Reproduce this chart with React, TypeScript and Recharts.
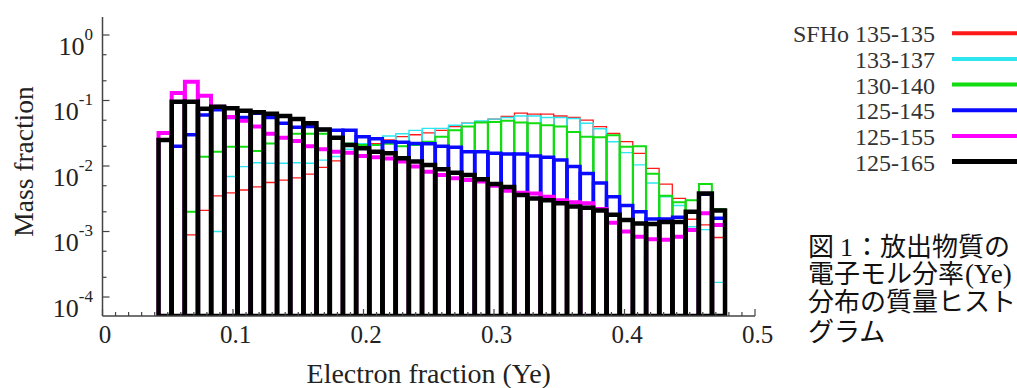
import React from "react";
import { ComposedChart, Bar, XAxis, YAxis, Label } from "recharts";

// Ye histogram bin centres
const yeBins = [
  0.048, 0.0581, 0.0682, 0.0783, 0.0884, 0.0985, 0.1086, 0.1187, 0.1288, 0.1389,
  0.149, 0.1591, 0.1692, 0.1793, 0.1894, 0.1995, 0.2096, 0.2197, 0.2298, 0.2399,
  0.25, 0.2601, 0.2702, 0.2803, 0.2904, 0.3005, 0.3106, 0.3207, 0.3308, 0.3409,
  0.351, 0.3611, 0.3712, 0.3813, 0.3914, 0.4015, 0.4116, 0.4217, 0.4318, 0.4419,
  0.452, 0.4621, 0.4722,
];

// mass fraction per bin, one list per binary model (null = empty bin)
const sfho135_135 = [
  null, null, 0.00089, 0.0021, 0.0035, 0.0039, 0.0043, 0.0048, 0.0056, 0.0061,
  0.0066, 0.0075, 0.0095, 0.012, 0.016, 0.019, 0.022, 0.025, 0.028, 0.03,
  0.032, 0.035, 0.04, 0.045, 0.047, 0.052, 0.057, 0.064, 0.062, 0.062,
  0.058, 0.055, 0.05, 0.04, 0.0316, 0.0235, 0.0156, 0.0092, 0.0053, 0.0032,
  0.00154, 0.00126, 0.00081,
];
const sfho133_137 = [
  null, null, null, null, 0.001, 0.0069, 0.0098, 0.0112, 0.011, 0.011,
  0.0112, 0.011, 0.0123, 0.014, 0.018, 0.022, 0.0256, 0.0287, 0.031, 0.035,
  0.0376, 0.0376, 0.042, 0.045, 0.0486, 0.052, 0.055, 0.058, 0.058, 0.055,
  0.055, 0.053, 0.045, 0.037, 0.0235, 0.016, 0.0104, 0.0055, 0.0034, 0.0025,
  0.00118, 0.00107, 0.000167,
];
const sfho130_140 = [
  null, null, 0.002, 0.0139, 0.0165, 0.0197, 0.0197, 0.017, 0.022, 0.0275,
  0.031, 0.031, 0.031, 0.026, 0.022, 0.021, 0.021, 0.0218, 0.02, 0.021,
  0.0235, 0.028, 0.035, 0.04, 0.046, 0.047, 0.049, 0.046, 0.045, 0.042,
  0.04, 0.033, 0.028, 0.0275, 0.0296, 0.0197, 0.02, 0.0076, 0.0035, 0.0028,
  0.003, 0.0053, 0.0022,
];
const sfho125_145 = [
  null, 0.02, 0.03, 0.06, 0.072, 0.055, 0.055, 0.064, 0.055, 0.045,
  0.039, 0.04, 0.036, 0.035, 0.035, 0.028, 0.026, 0.0235, 0.023, 0.022,
  0.0218, 0.02, 0.0194, 0.0165, 0.0165, 0.0156, 0.0152, 0.0152, 0.0142, 0.0136,
  0.0123, 0.0098, 0.0077, 0.0055, 0.0034, 0.0025, 0.002, 0.00155, 0.00155, 0.00165,
  0.002, 0.0037, 0.0016,
];
const sfho125_155 = [
  0.032, 0.13, 0.194, 0.118, 0.08, 0.056, 0.049, 0.04, 0.031, 0.027,
  0.024, 0.02, 0.018, 0.0165, 0.016, 0.0142, 0.0136, 0.013, 0.0117, 0.0098,
  0.0082, 0.0073, 0.0065, 0.0061, 0.0058, 0.005, 0.0042, 0.0039, 0.0038, 0.0034,
  0.003, 0.0028, 0.0027, 0.0022, 0.00136, 0.001, 0.00083, 0.00076, 0.00075, 0.00083,
  0.00105, 0.0019, 0.00126,
];
const sfho125_165 = [
  0.025, 0.096, 0.096, 0.075, 0.08, 0.076, 0.07, 0.066, 0.063, 0.058,
  0.052, 0.045, 0.036, 0.027, 0.021, 0.0186, 0.0165, 0.0156, 0.0131, 0.0117,
  0.0104, 0.0089, 0.0079, 0.0073, 0.0063, 0.0053, 0.0048, 0.0036, 0.0032, 0.003,
  0.0027, 0.0024, 0.0023, 0.0021, 0.0018, 0.0015, 0.00133, 0.0013, 0.0014, 0.0014,
  0.002, 0.0038, 0.0021,
];

const xMajorTicks = [0, 0.1, 0.2, 0.3, 0.4, 0.5];
const xMinorTicks = [
  0.01, 0.02, 0.03, 0.04, 0.05, 0.06, 0.07, 0.08, 0.09,
  0.11, 0.12, 0.13, 0.14, 0.15, 0.16, 0.17, 0.18, 0.19,
  0.21, 0.22, 0.23, 0.24, 0.25, 0.26, 0.27, 0.28, 0.29,
  0.31, 0.32, 0.33, 0.34, 0.35, 0.36, 0.37, 0.38, 0.39,
  0.41, 0.42, 0.43, 0.44, 0.45, 0.46, 0.47, 0.48, 0.49,
];
const yMajorTicks = [1e-4, 1e-3, 1e-2, 1e-1, 1];
const yMinorTicks = [2e-4, 5e-4, 2e-3, 5e-3, 2e-2, 5e-2, 0.2, 0.5];

const SERIES = [
  { key: "m135_135", name: "SFHo 135-135", color: "#ff1a1a", width: 1.3, values: sfho135_135 },
  { key: "m133_137", name: "133-137", color: "#2ee6f0", width: 1.4, values: sfho133_137 },
  { key: "m130_140", name: "130-140", color: "#11dd11", width: 2, values: sfho130_140 },
  { key: "m125_145", name: "125-145", color: "#0a0aff", width: 3.5, values: sfho125_145 },
  { key: "m125_155", name: "125-155", color: "#ff00ff", width: 4, values: sfho125_155 },
  { key: "m125_165", name: "125-165", color: "#000000", width: 4.5, values: sfho125_165 },
];

const chartData = yeBins.map((ye, i) => {
  const row: { [k: string]: number | null } = { ye };
  SERIES.forEach((s) => {
    row[s.key] = s.values[i];
  });
  return row;
});

const SERIF = '"Liberation Serif", "Times New Roman", serif';
const CJK = '"Noto Sans CJK JP", "Noto Sans CJK SC", sans-serif';
const AXIS = "#444";
const INK = "#222";
const BOX = 12.9;

const allXTicks = [...xMajorTicks, ...xMinorTicks].sort((a, b) => a - b);
const allYTicks = [...yMajorTicks, ...yMinorTicks].sort((a, b) => a - b);

const BottomTick = (props: any) => {
  const { x, y, payload } = props;
  const major = xMajorTicks.includes(payload.value);
  return (
    <g>
      <line x1={x} x2={x} y1={y} y2={y - (major ? 7 : 4)} stroke={AXIS} strokeWidth={1.2} />
      {major && (
        <text x={x + 2.5} y={y + 27} textAnchor="middle" fontSize={25} fill={INK} fontFamily={SERIF}>
          {String(payload.value)}
        </text>
      )}
    </g>
  );
};

const TopTick = (props: any) => {
  const { x, y, payload } = props;
  const major = xMajorTicks.includes(payload.value);
  return <line x1={x} x2={x} y1={y} y2={y + (major ? 7 : 4)} stroke={AXIS} strokeWidth={1.2} />;
};

const LeftTick = (props: any) => {
  const { x, y, payload } = props;
  const major = yMajorTicks.includes(payload.value);
  const exp = Math.round(Math.log10(payload.value));
  return (
    <g>
      <line x1={x} x2={x + (major ? 7 : 4)} y1={y} y2={y} stroke={AXIS} strokeWidth={1.2} />
      {major && (
        <text x={x - 9.5} y={y + 19.5} textAnchor="end" fontSize={26} fill={INK} fontFamily={SERIF}>
          10
          <tspan dy={-15} fontSize={17}>
            {String(exp)}
          </tspan>
        </text>
      )}
    </g>
  );
};

const RightTick = (props: any) => {
  const { x, y, payload } = props;
  const major = yMajorTicks.includes(payload.value);
  return <line x1={x} x2={x - (major ? 7 : 4)} y1={y} y2={y} stroke={AXIS} strokeWidth={1.2} />;
};

export default function App() {
  return (
    <div
      style={{
        position: "absolute",
        left: 0,
        top: 0,
        width: 1017,
        height: 388,
        overflow: "hidden",
        background: "#fff",
      }}
    >
      <ComposedChart
        width={1017}
        height={388}
        data={chartData}
        margin={{ top: 17, right: 262, bottom: 0, left: 42.5 }}
        barGap={-BOX}
      >
        <XAxis
          dataKey="ye"
          type="number"
          domain={[0, 0.5]}
          ticks={allXTicks}
          interval={0}
          height={72}
          tickSize={0}
          tickMargin={0}
          tickLine={false}
          tick={BottomTick}
          axisLine={{ stroke: AXIS, strokeWidth: 1.5 }}
          allowDataOverflow
        >
          <Label
            content={(p: any) => (
              <text
                x={p.viewBox.x + p.viewBox.width / 2}
                y={p.viewBox.y + 67}
                textAnchor="middle"
                fontSize={28}
                fill={INK}
                fontFamily={SERIF}
              >
                Electron fraction (Ye)
              </text>
            )}
          />
        </XAxis>
        <XAxis
          xAxisId="top"
          orientation="top"
          dataKey="ye"
          type="number"
          domain={[0, 0.5]}
          ticks={allXTicks}
          interval={0}
          height={0}
          tickSize={0}
          tickMargin={0}
          tickLine={false}
          tick={TopTick}
          axisLine={{ stroke: AXIS, strokeWidth: 1.5 }}
          allowDataOverflow
        />
        <YAxis
          type="number"
          scale="log"
          domain={[5.13e-5, 1.883]}
          ticks={allYTicks}
          interval={0}
          width={60}
          tickSize={0}
          tickMargin={0}
          tickLine={false}
          tick={LeftTick}
          axisLine={{ stroke: AXIS, strokeWidth: 1.5 }}
          allowDataOverflow
        >
          <Label
            content={(p: any) => (
              <text
                x={23}
                y={p.viewBox.y + p.viewBox.height / 2 - 5}
                transform={`rotate(-90, 23, ${p.viewBox.y + p.viewBox.height / 2 - 5})`}
                textAnchor="middle"
                dominantBaseline="central"
                fontSize={27.5}
                fill={INK}
                fontFamily={SERIF}
              >
                Mass fraction
              </text>
            )}
          />
        </YAxis>
        <YAxis
          yAxisId="right"
          orientation="right"
          type="number"
          scale="log"
          domain={[5.13e-5, 1.883]}
          ticks={allYTicks}
          interval={0}
          width={0}
          tickSize={0}
          tickMargin={0}
          tickLine={false}
          tick={RightTick}
          axisLine={{ stroke: AXIS, strokeWidth: 1.5 }}
          allowDataOverflow
        />
        {SERIES.map((s) => (
          <Bar
            key={s.key}
            dataKey={s.key}
            name={s.name}
            barSize={BOX}
            fill="none"
            stroke={s.color}
            strokeWidth={s.width}
            isAnimationActive={false}
          />
        ))}
      </ComposedChart>

      <svg width={1017} height={388} style={{ position: "absolute", left: 0, top: 0, pointerEvents: "none" }}>
        {SERIES.map((s, i) => {
          const cy = 33.3 + 25.65 * i;
          return (
            <g key={s.key}>
              <text x={935} y={cy + 9} textAnchor="end" fontSize={24} fill="#333" fontFamily={SERIF}>
                {s.name}
              </text>
              <line x1={952} x2={1017} y1={cy} y2={cy} stroke={s.color} strokeWidth={s.key === "m125_165" ? 5 : 4} />
            </g>
          );
        })}
        <g fill="#111" fontSize={26} fontFamily={CJK}>
          <text x={808} y={255.5}>図</text>
          <text x={840} y={255.5} fontFamily={SERIF}>1</text>
          <text x={854} y={255.5}>：放出物質の</text>
          <text x={808} y={283}>電子モル分率</text>
          <text x={965} y={283} fontFamily={SERIF} fontSize={27}>(Ye)</text>
          <text x={808} y={311}>分布の質量ヒスト</text>
          <text x={808} y={341}>グラム</text>
        </g>
      </svg>
    </div>
  );
}
